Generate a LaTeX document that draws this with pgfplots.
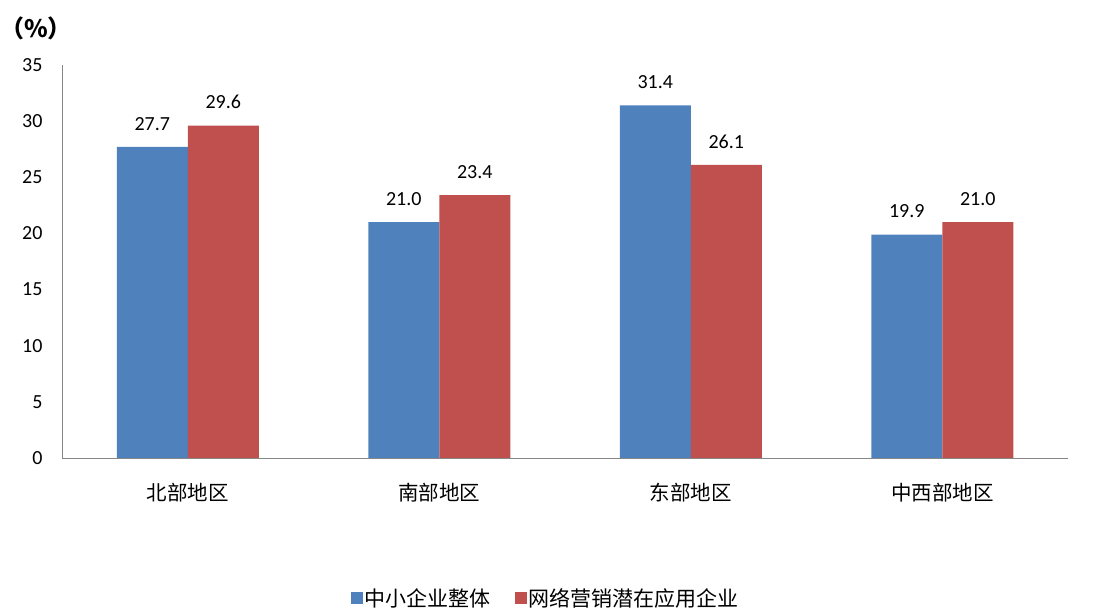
\documentclass[border=0pt]{standalone}
\usepackage{pgfplots}
\pgfplotsset{compat=1.18}
\usepackage{fontspec}
\setmainfont{Carlito}
\newfontfamily\cjk{Noto Sans CJK SC}
\definecolor{cblue}{HTML}{4F81BD}
\definecolor{cred}{HTML}{C0504D}
\definecolor{axgray}{HTML}{868686}
\begin{document}
\begin{tikzpicture}
\path[use as bounding box] (0,0) rectangle (1093bp,613bp);
\begin{axis}[
  at={(62bp,155bp)}, anchor=south west,
  scale only axis, width=1006bp, height=393bp,
  ybar=0pt, bar width=71bp,
  xmin=-0.5, xmax=3.5, ymin=0, ymax=35,
  ytick={0,5,...,35},
  xtick={0,1,2,3},
  xticklabels={{\cjk 北部地区},{\cjk 南部地区},{\cjk 东部地区},{\cjk 中西部地区}},
  axis x line=bottom, axis y line=left,
  axis line style={axgray, line width=1pt, -},
  major tick length=0pt,
  tick label style={font=\fontsize{20bp}{22bp}\selectfont, black},
  /pgf/number format/assume math mode=true,
  yticklabel style={xshift=-16bp},
  xticklabel style={yshift=-22bp, font=\fontsize{20.5bp}{22bp}\selectfont},
  nodes near coords,
  nodes near coords style={font=\fontsize{20bp}{22bp}\selectfont, black, yshift=13bp,
    /pgf/number format/fixed, /pgf/number format/fixed zerofill, /pgf/number format/precision=1},
  legend style={at={(0.481,-0.356)}, anchor=center, draw=none, fill=none,
    legend columns=2, font=\fontsize{21bp}{23bp}\selectfont\cjk,
    /tikz/every even column/.append style={column sep=22bp}},
  legend image code/.code={\fill[#1] (0bp,-6bp) rectangle (12bp,6bp);},
]
\addplot[fill=cblue, draw=none] coordinates {(0,27.7) (1,21.0) (2,31.4) (3,19.9)};
\addplot[fill=cred, draw=none] coordinates {(0,29.6) (1,23.4) (2,26.1) (3,21.0)};
\legend{中小企业整体, 网络营销潜在应用企业}
\end{axis}
\node[font=\fontsize{24bp}{26bp}\selectfont\cjk\bfseries] at (36bp,585bp) {（\%）};
\end{tikzpicture}
\end{document}
